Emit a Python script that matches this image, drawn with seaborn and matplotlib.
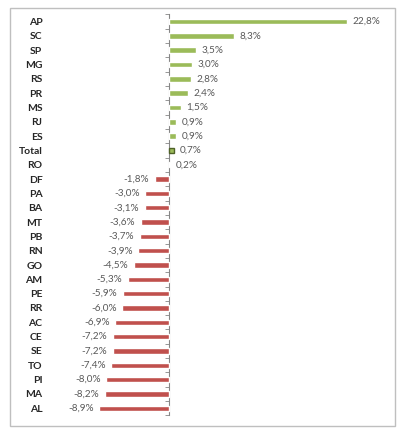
import matplotlib
matplotlib.use("Agg")
import matplotlib.pyplot as plt
import seaborn as sns
import pandas as pd
from matplotlib.patches import Rectangle

estados = ["AP", "SC", "SP", "MG", "RS", "PR", "MS", "RJ", "ES", "Total", "RO",
           "DF", "PA", "BA", "MT", "PB", "RN", "GO", "AM", "PE", "RR", "AC",
           "CE", "SE", "TO", "PI", "MA", "AL"]
valores = [22.8, 8.3, 3.5, 3.0, 2.8, 2.4, 1.5, 0.9, 0.9, 0.7, 0.2,
           -1.8, -3.0, -3.1, -3.6, -3.7, -3.9, -4.5, -5.3, -5.9, -6.0, -6.9,
           -7.2, -7.2, -7.4, -8.0, -8.2, -8.9]

VERDE = "#9bbb59"
VERMELHO = "#c0504d"
cores = [VERDE if v >= 0 else VERMELHO for v in valores]

df = pd.DataFrame({"uf": estados, "val": valores})

sns.set_theme(style="white")
plt.rcParams["font.family"] = ["Lato", "DejaVu Sans"]

fig = plt.figure(figsize=(4.05, 4.33), dpi=100)
fig.patch.set_facecolor("white")
ax = fig.add_axes([55 / 405, 17.6 / 433, 330 / 405, 401 / 433])

sns.barplot(data=df, x="val", y="uf", hue="uf", palette=cores, order=estados,
            hue_order=estados, orient="h", width=0.38, legend=False, ax=ax,
            saturation=1, dodge=False)

for i, p in enumerate(ax.patches):
    if estados[i] == "Total":
        p.set_edgecolor("#4f6228")
        p.set_linewidth(1.0)

for cont, v in zip(ax.containers, valores):
    ax.bar_label(cont, labels=[f"{v:.1f}%".replace(".", ",")], padding=4,
                 fontsize=7.2, color="#595959")

ax.set_xlim(-14.6, 27.7)
ax.set_ylim(len(estados) - 0.5, -0.5)
ax.set_xlabel("")
ax.set_ylabel("")
ax.set_xticks([])
for s in ax.spines.values():
    s.set_visible(False)
ax.tick_params(axis="y", length=0, pad=9, labelsize=7.5, labelcolor="#262626")
for t in ax.get_yticklabels():
    t.set_fontweight("bold")

# eixo vertical em zero
xmin, xmax = ax.get_xlim()
loc0 = (0 - xmin) / (xmax - xmin)
sec = ax.secondary_yaxis(loc0)
sec.set_yticks([i - 0.5 for i in range(len(estados) + 1)])
sec.set_yticklabels([])
sec.tick_params(axis="y", direction="out", length=3, width=0.6, color="#868686", left=True, right=False)
for s in sec.spines.values():
    s.set_color("#868686")
    s.set_linewidth(0.8)
    s.set_zorder(0.5)

fig.patches.append(Rectangle((10 / 405, 7 / 433), 385 / 405, 418 / 433,
                             transform=fig.transFigure, fill=False,
                             edgecolor="#bfbfbf", linewidth=1.0))

fig.savefig("out.png", dpi=100)
